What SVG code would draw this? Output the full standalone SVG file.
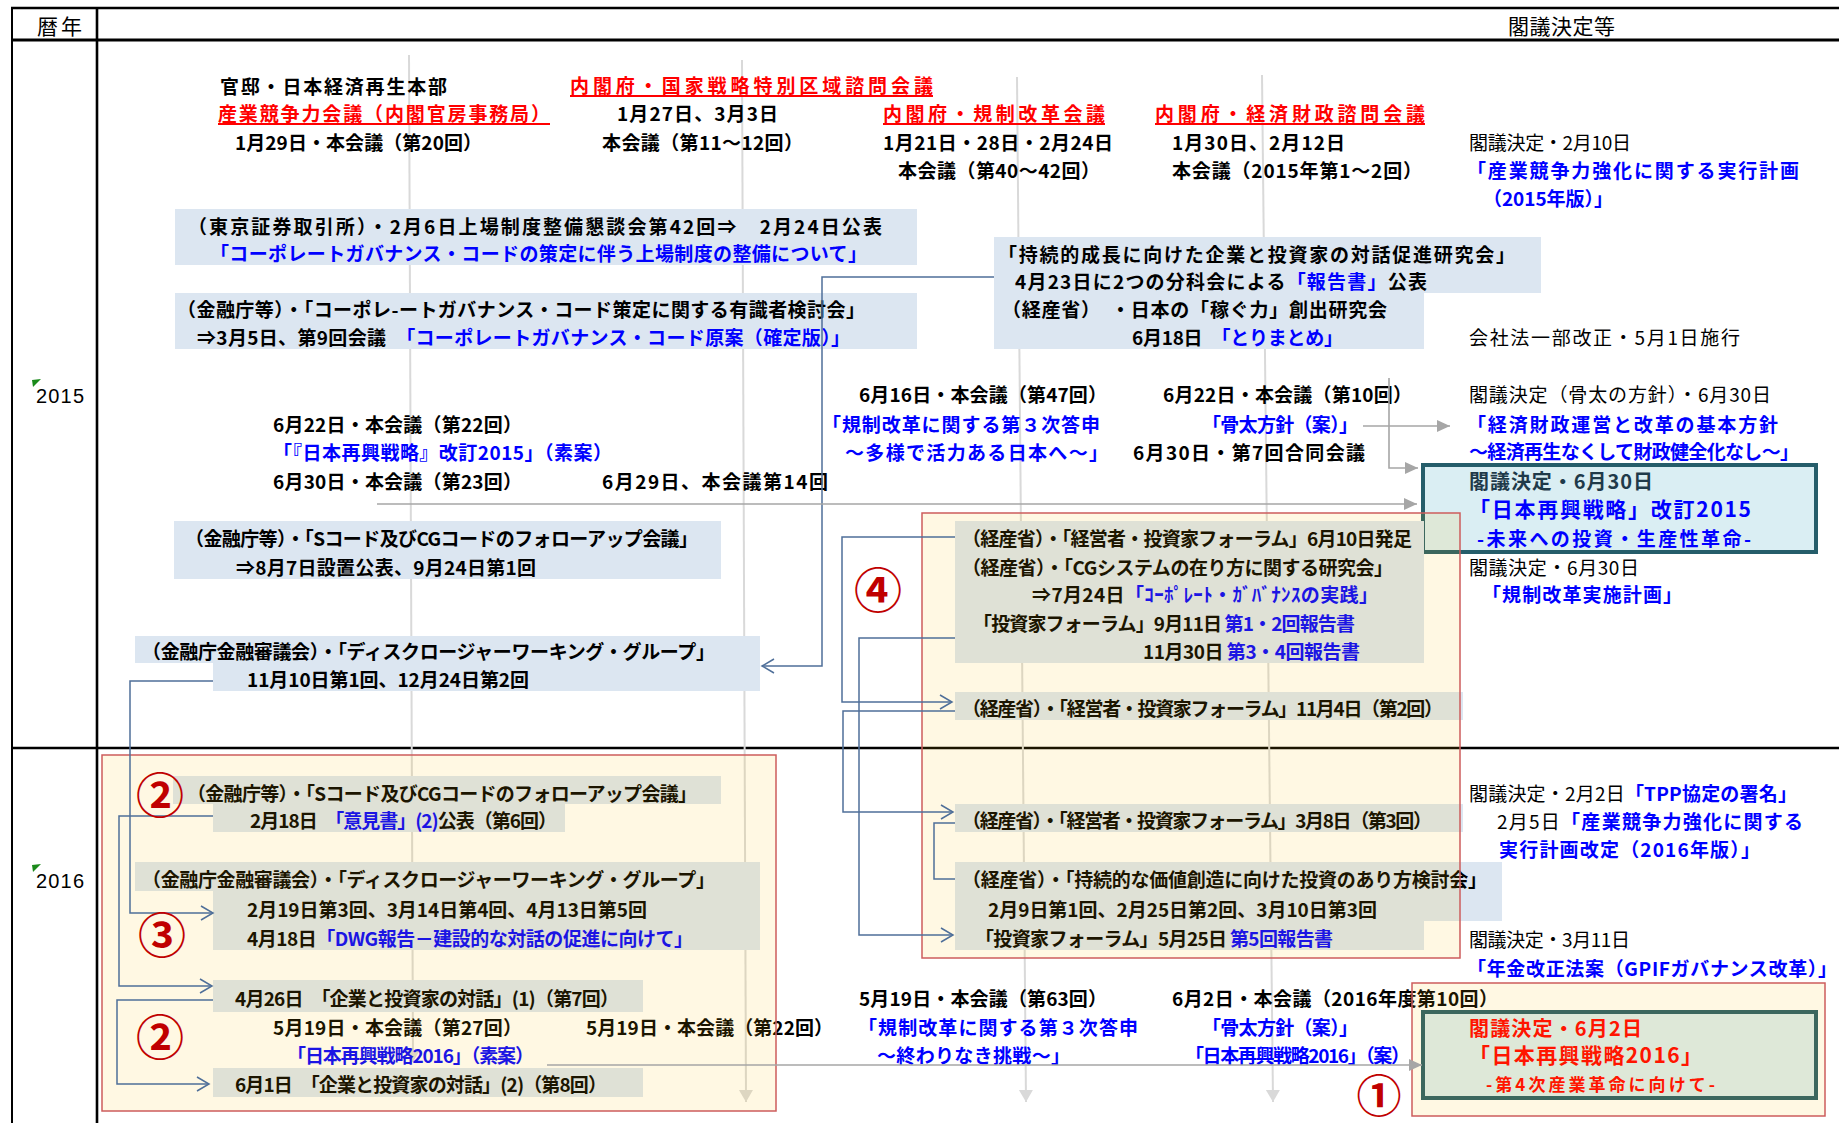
<svg xmlns="http://www.w3.org/2000/svg" width="1839" height="1123" viewBox="0 0 1839 1123">
<style>
text { font-family: "Noto Sans CJK JP", "Noto Sans CJK SC", sans-serif; }
.b { font-size: 19px; font-weight: 700; fill: #000; }
.r { font-size: 19px; font-weight: 400; fill: #000; }
.bl { fill: #0000ff; }
.rd { fill: #ff0000; }
.k { fill: #000; }
.dk { fill: #1f3a4a; }
.s20 { font-size: 20px; }
.s21 { font-size: 21px; }
.s17 { font-size: 17px; }
.box { fill: #dce6f1; }
.teal { fill: #daeef3; stroke: #255d6a; stroke-width: 4; }
.frame { fill: #ffc000; fill-opacity: 0.11; stroke: #cd5c5c; stroke-width: 1.5; }
.ul { stroke: #ff0000; stroke-width: 2; }
.conn { fill: none; stroke: #4f6f99; stroke-width: 1.5; }
.arr { marker-end: url(#open); }
.gconn { fill: none; stroke: #a6a6a6; stroke-width: 1.6; marker-end: url(#gtri); }
.tl { fill: none; stroke: #d9d9d9; stroke-width: 2; marker-end: url(#ltri); }
.num { font-size: 48px; font-weight: 700; fill: #c00000; text-anchor: middle; }
.yr { font-family: "Liberation Sans", Arial, sans-serif; font-size: 20px; fill: #000; }
.hd { font-size: 21px; font-weight: 400; fill: #000; }
</style>
<defs>
<marker id="open" markerUnits="userSpaceOnUse" markerWidth="16" markerHeight="18" refX="13" refY="8" orient="auto" overflow="visible">
<path d="M1,1 L13,8 L1,15" fill="none" stroke="#4f6f99" stroke-width="1.5"/>
</marker>
<marker id="gtri" markerUnits="userSpaceOnUse" markerWidth="14" markerHeight="12" refX="13" refY="6" orient="auto" overflow="visible">
<path d="M0,0 L13,6 L0,12 Z" fill="#a6a6a6"/>
</marker>
<marker id="ltri" markerUnits="userSpaceOnUse" markerWidth="14" markerHeight="14" refX="12" refY="7" orient="auto" overflow="visible">
<path d="M0,0 L12,7 L0,14 Z" fill="#d9d9d9"/>
</marker>
</defs>
<rect x="0" y="0" width="1839" height="1123" fill="#fff"/>

<g id="table" fill="none" stroke="#000">
<line x1="11" y1="8" x2="1839" y2="8" stroke-width="2.5"/>
<line x1="11" y1="40" x2="1839" y2="40" stroke-width="3.2"/>
<line x1="12" y1="7" x2="12" y2="1123" stroke-width="2"/>
<line x1="97" y1="7" x2="97" y2="1123" stroke-width="2.6"/>
<line x1="11" y1="748" x2="1839" y2="748" stroke-width="2.6"/>
</g>
<g id="header">
<text class="hd" x="37" y="34" textLength="45">暦年</text>
<text class="hd" x="1508" y="34" textLength="107">閣議決定等</text>
</g>
<g id="years">
<polygon points="32,380 41,379 33,387" fill="#1a8a1a"/>
<text class="yr" x="36" y="403" textLength="48">2015</text>
<polygon points="32,865 41,864 33,872" fill="#1a8a1a"/>
<text class="yr" x="36" y="888" textLength="48">2016</text>
</g>

<g id="timelines">
<line class="tl" x1="409" y1="55" x2="413" y2="1062"/>
<line class="tl" x1="742" y1="60" x2="746" y2="1102"/>
<line class="tl" x1="1017" y1="77" x2="1026" y2="1102"/>
<line class="tl" x1="1262" y1="75" x2="1273" y2="1102"/>
</g>

<g id="n-kantei">
<text class="b" x="220" y="94" textLength="227">官邸・日本経済再生本部</text>
<text class="b rd" x="218" y="121" textLength="332">産業競争力会議（内閣官房事務局）</text>
<line class="ul" x1="218" y1="124" x2="550" y2="124"/>
<text class="b" x="235" y="150" textLength="247">1月29日・本会議（第20回）</text>
</g>
<g id="n-tokku">
<text class="b rd" x="570" y="93" textLength="363">内閣府・国家戦略特別区域諮問会議</text>
<line class="ul" x1="570" y1="96" x2="933" y2="96"/>
<text class="b" x="617" y="121" textLength="161">1月27日、3月3日</text>
<text class="b" x="602" y="150" textLength="201">本会議（第11～12回）</text>
</g>
<g id="n-kisei">
<text class="b rd" x="883" y="121" textLength="222">内閣府・規制改革会議</text>
<line class="ul" x1="883" y1="124" x2="1105" y2="124"/>
<text class="b" x="883" y="150" textLength="230">1月21日・28日・2月24日</text>
<text class="b" x="898" y="178" textLength="202">本会議（第40～42回）</text>
</g>
<g id="n-keizai">
<text class="b rd" x="1155" y="121" textLength="270">内閣府・経済財政諮問会議</text>
<line class="ul" x1="1155" y1="124" x2="1425" y2="124"/>
<text class="b" x="1172" y="150" textLength="173">1月30日、2月12日</text>
<text class="b" x="1172" y="178" textLength="250">本会議（2015年第1～2回）</text>
</g>
<g id="n-kakugi-0210">
<text class="r" x="1469" y="150" textLength="162">閣議決定・2月10日</text>
<text class="b bl" x="1467" y="178" textLength="332">「産業競争力強化に関する実行計画</text>
<text class="b bl" x="1483" y="206" textLength="130">（2015年版）」</text>
</g>
<g id="n-kaishaho">
<text class="r" x="1469" y="345" textLength="271">会社法一部改正・5月1日施行</text>
</g>

<g id="n-tse">
<rect class="box" x="175" y="209" width="742" height="56"/>
<text class="b" x="188" y="234" textLength="694">（東京証券取引所）・2月6日上場制度整備懇談会第42回⇒　2月24日公表</text>
<text class="b bl" x="210" y="261" textLength="657">「コーポレートガバナンス・コードの策定に伴う上場制度の整備について」</text>
</g>
<g id="n-cgcode">
<rect class="box" x="175" y="293" width="742" height="56"/>
<text class="b" x="177" y="317" textLength="688">（金融庁等）・「コーポレ-ートガバナンス・コード策定に関する有識者検討会」</text>
<text class="b" x="197" y="345" textLength="653">⇒3月5日、第9回会議　<tspan class="bl">「コーポレートガバナンス・コード原案（確定版）」</tspan></text>
</g>
<g id="n-taiwa">
<path class="box" d="M994,237 H1541 V293 H1424 V349 H994 Z"/>
<text class="b" x="998" y="262" textLength="517">「持続的成長に向けた企業と投資家の対話促進研究会」</text>
<text class="b" x="1015" y="289" textLength="412">4月23日に2つの分科会による<tspan class="bl">「報告書」</tspan>公表</text>
<text class="b" x="1002" y="317" textLength="385">（経産省）　・日本の「稼ぐ力」創出研究会</text>
<text class="b" x="1132" y="345" textLength="211">6月18日　<tspan class="bl">「とりまとめ」</tspan></text>
</g>

<g id="n-keizai-2015-06">
<text class="b" x="273" y="432" textLength="249">6月22日・本会議（第22回）</text>
<text class="b bl" x="273" y="460" textLength="339">「『日本再興戦略』改訂2015」（素案）</text>
<text class="b" x="273" y="489" textLength="249">6月30日・本会議（第23回）</text>
</g>
<g id="n-tokku-14">
<text class="b" x="602" y="489" textLength="226">6月29日、本会議第14回</text>
</g>
<g id="n-kisei-47">
<text class="b" x="859" y="402" textLength="248">6月16日・本会議（第47回）</text>
<text class="b bl" x="822" y="432" textLength="278">「規制改革に関する第３次答申</text>
<text class="b bl" x="845" y="460" textLength="263">～多様で活力ある日本へ～」</text>
</g>
<g id="n-keizai-10">
<text class="b" x="1163" y="402" textLength="249">6月22日・本会議（第10回）</text>
<text class="b bl" x="1202" y="432" textLength="156">「骨太方針（案）」</text>
<text class="b" x="1133" y="460" textLength="232">6月30日・第7回合同会議</text>
</g>
<g id="n-honebuto-2015">
<text class="r" x="1469" y="402" textLength="302">閣議決定（骨太の方針）・6月30日</text>
<text class="b bl" x="1467" y="432" textLength="311">「経済財政運営と改革の基本方針</text>
<text class="b bl" x="1469" y="459" textLength="330">～経済再生なくして財政健全化なし～」</text>
</g>
<g id="n-saiko-2015">
<rect class="teal" x="1423" y="465" width="393" height="87"/>
<text class="b s20 dk" x="1469" y="489" textLength="184">閣議決定・6月30日</text>
<text class="b s21 bl" x="1469" y="517" textLength="282">「日本再興戦略」改訂2015</text>
<text class="b bl" x="1477" y="546" textLength="274">-未来への投資・生産性革命-</text>
</g>
<g id="n-kisei-jisshi">
<text class="r" x="1469" y="575" textLength="170">閣議決定・6月30日</text>
<text class="b bl" x="1482" y="602" textLength="200">「規制改革実施計画」</text>
</g>

<g id="n-followup-2015">
<rect class="box" x="174" y="521" width="547" height="58"/>
<text class="b" x="185" y="546" textLength="513">（金融庁等）・「Sコード及びCGコードのフォローアップ会議」</text>
<text class="b" x="236" y="575" textLength="300">⇒8月7日設置公表、9月24日第1回</text>
</g>
<g id="n-dwg-2015">
<path class="box" d="M135,636 H760 V691 H213 V663 H135 Z"/>
<text class="b" x="142" y="659" textLength="573">（金融庁金融審議会）・「ディスクロージャーワーキング・グループ」</text>
<text class="b" x="247" y="687" textLength="282">11月10日第1回、12月24日第2回</text>
</g>

<g id="n-forum-2015">
<rect class="box" x="955" y="521" width="469" height="142"/>
<text class="b" x="962" y="546" textLength="450">（経産省）・「経営者・投資家フォーラム」6月10日発足</text>
<text class="b" x="962" y="575" textLength="431">（経産省）・「CGシステムの在り方に関する研究会」</text>
<text class="b" x="1032" y="602" textLength="346">⇒7月24日<tspan class="bl">「ｺｰﾎﾟﾚｰﾄ・ｶﾞﾊﾞﾅﾝｽの実践」</tspan></text>
<text class="b" x="973" y="631" textLength="382">「投資家フォーラム」9月11日 <tspan class="bl">第1・2回報告書</tspan></text>
<text class="b" x="1143" y="659" textLength="217">11月30日 <tspan class="bl">第3・4回報告書</tspan></text>
</g>
<g id="n-forum-2">
<rect class="box" x="955" y="692" width="508" height="28"/>
<text class="b" x="962" y="716" textLength="481">（経産省）・「経営者・投資家フォーラム」11月4日（第2回）</text>
</g>
<g id="n-forum-3">
<rect class="box" x="955" y="804" width="508" height="28"/>
<text class="b" x="962" y="828" textLength="470">（経産省）・「経営者・投資家フォーラム」3月8日（第3回）</text>
</g>
<g id="n-kachi">
<path class="box" d="M955,862 H1502 V921 H1424 V950 H955 Z"/>
<text class="b" x="962" y="887" textLength="525">（経産省）・「持続的な価値創造に向けた投資のあり方検討会」</text>
<text class="b" x="988" y="917" textLength="389">2月9日第1回、2月25日第2回、3月10日第3回</text>
<text class="b" x="975" y="946" textLength="358">「投資家フォーラム」5月25日 <tspan class="bl">第5回報告書</tspan></text>
</g>

<g id="n-tpp">
<text class="r" x="1469" y="801" textLength="328">閣議決定・2月2日<tspan class="bl" font-weight="700">「TPP協定の署名」</tspan></text>
<text class="r" x="1497" y="829" textLength="306">2月5日<tspan class="bl" font-weight="700">「産業競争力強化に関する</tspan></text>
<text class="b bl" x="1499" y="857" textLength="261">実行計画改定（2016年版）」</text>
</g>
<g id="n-nenkin">
<text class="r" x="1469" y="947" textLength="161">閣議決定・3月11日</text>
<text class="b bl" x="1467" y="976" textLength="370">「年金改正法案（GPIFガバナンス改革）」</text>
</g>

<g id="n-followup-2016">
<path class="box" d="M173,776 H721 V804 H565 V832 H213 V804 H173 Z"/>
<text class="b" x="187" y="801" textLength="510">（金融庁等）・「Sコード及びCGコードのフォローアップ会議」</text>
<text class="b" x="250" y="828" textLength="307">2月18日　<tspan class="bl">「意見書」(2)</tspan>公表（第6回）</text>
</g>
<g id="n-dwg-2016">
<path class="box" d="M135,862 H760 V950 H213 V891 H135 Z"/>
<text class="b" x="142" y="887" textLength="573">（金融庁金融審議会）・「ディスクロージャーワーキング・グループ」</text>
<text class="b" x="247" y="917" textLength="400">2月19日第3回、3月14日第4回、4月13日第5回</text>
<text class="b" x="247" y="946" textLength="446">4月18日<tspan class="bl">「DWG報告－建設的な対話の促進に向けて」</tspan></text>
</g>
<g id="n-taiwa-1">
<rect class="box" x="213" y="980" width="430" height="32"/>
<text class="b" x="235" y="1006" textLength="384">4月26日　「企業と投資家の対話」(1)（第7回）</text>
</g>
<g id="n-keizai-27">
<text class="b" x="273" y="1035" textLength="249">5月19日・本会議（第27回）</text>
<text class="b bl" x="287" y="1063" textLength="247">「日本再興戦略2016」（素案）</text>
</g>
<g id="n-tokku-22">
<text class="b" x="586" y="1035" textLength="247">5月19日・本会議（第22回）</text>
</g>
<g id="n-taiwa-2">
<rect class="box" x="213" y="1068" width="430" height="29"/>
<text class="b" x="235" y="1092" textLength="372">6月1日　「企業と投資家の対話」(2)（第8回）</text>
</g>
<g id="n-kisei-63">
<text class="b" x="859" y="1006" textLength="248">5月19日・本会議（第63回）</text>
<text class="b bl" x="858" y="1035" textLength="280">「規制改革に関する第３次答申</text>
<text class="b bl" x="877" y="1063" textLength="193">～終わりなき挑戦～」</text>
</g>
<g id="n-keizai-2016">
<text class="b" x="1172" y="1006" textLength="326">6月2日・本会議（2016年度第10回）</text>
<text class="b bl" x="1202" y="1035" textLength="156">「骨太方針（案）」</text>
<text class="b bl" x="1185" y="1063" textLength="225">「日本再興戦略2016」（案）</text>
</g>
<g id="n-saiko-2016">
<rect class="teal" x="1423" y="1012" width="393" height="86"/>
<text class="b s20 rd" x="1469" y="1036" textLength="173">閣議決定・6月2日</text>
<text class="b s21 rd" x="1469" y="1063" textLength="233">「日本再興戦略2016」</text>
<text class="b s17 rd" x="1486" y="1091" textLength="229">-第4次産業革命に向けて-</text>
</g>

<g id="frames">
<rect class="frame" x="922" y="513" width="538" height="445"/>
<rect class="frame" x="102" y="755" width="674" height="356"/>
<rect class="frame" x="1412" y="983" width="413" height="133"/>
</g>

<g id="connectors">
<path class="conn arr" d="M994,277 H822 V666 H762"/>
<path class="conn arr" d="M213,681 H130 V913 H213"/>
<path class="conn arr" d="M213,816 H119 V986 H212"/>
<path class="conn arr" d="M213,1000 H117 V1084 H209"/>
<path class="conn arr" d="M955,537 H842 V702 H952"/>
<path class="conn arr" d="M955,711 H843 V812 H953"/>
<path class="conn arr" d="M955,638 H859 V935 H953"/>
<path class="conn" d="M955,823 H934 V879 H955"/>
<path class="gconn" d="M377,504 H1417"/>
<path class="gconn" d="M1363,426 H1450"/>
<path class="gconn" d="M1389,378 V468 H1418"/>
<path class="gconn" d="M547,1065 H1422"/>
</g>

<g id="numbers">
<text class="num" x="878" y="608">④</text>
<text class="num" x="160" y="813">②</text>
<text class="num" x="162" y="953">③</text>
<text class="num" x="160" y="1055">②</text>
<text class="num" x="1379" y="1113" style="font-size:45px">①</text>
</g>
</svg>
